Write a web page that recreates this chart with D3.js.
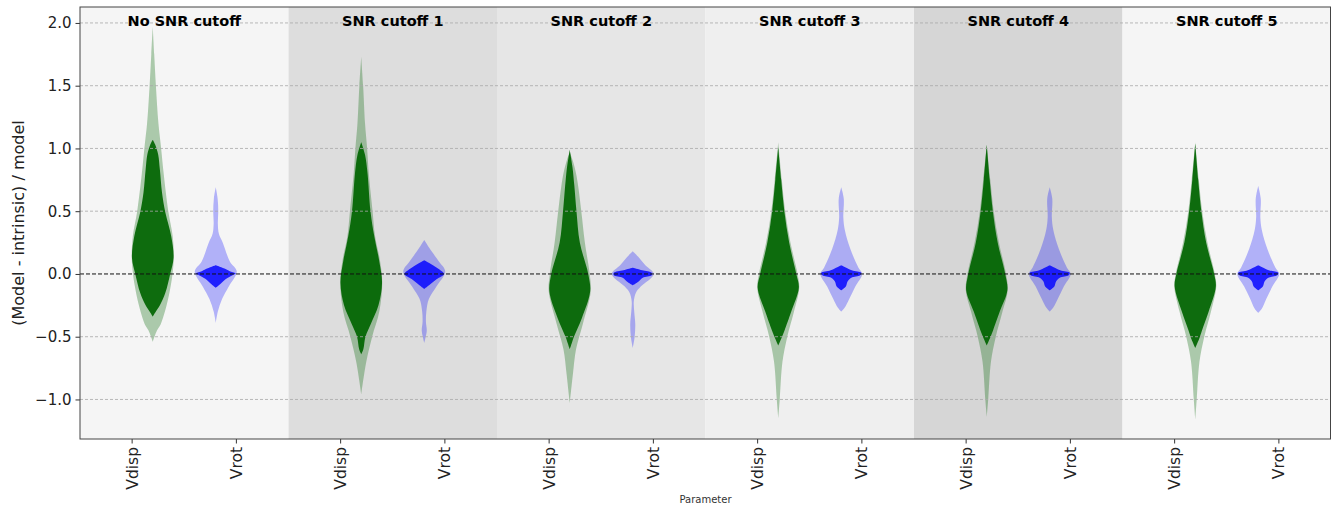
<!DOCTYPE html>
<html>
<head>
<meta charset="utf-8">
<script src="https://cdn.jsdelivr.net/npm/d3@7"></script>
<style>
  html, body { margin: 0; padding: 0; background: #ffffff; }
  svg { display: block; font-family: "DejaVu Sans", sans-serif; }
</style>
</head>
<body>
<svg id="chart" width="1331" height="506"></svg>
<script>
// ---------------- DATA ----------------
const panels = ["No SNR cutoff", "SNR cutoff 1", "SNR cutoff 2", "SNR cutoff 3", "SNR cutoff 4", "SNR cutoff 5"];
const params = ["Vdisp", "Vrot"];
const yTicks = [-1.0, -0.5, 0.0, 0.5, 1.0, 1.5, 2.0];

// Violin outlines: [value, relative density (1 = widest)]
// Vdisp, wide (light) distribution
const vdispOuter = [
  [[-0.54,0],[-0.45,0.2],[-0.4,0.38],[-0.25,0.66],[-0.1,0.85],[0,0.94],[0.13,1],[0.3,0.95],[0.5,0.74],[0.8,0.52],[1.0,0.4],[1.2,0.27],[1.5,0.15],[1.75,0.07],[1.97,0]],
  [[-0.96,0],[-0.7,0.24],[-0.5,0.52],[-0.3,0.86],[-0.07,1.0],[0.1,0.9],[0.3,0.66],[0.5,0.54],[0.8,0.36],[1.0,0.28],[1.2,0.18],[1.5,0.09],[1.73,0]],
  [[-1.03,0],[-0.8,0.15],[-0.6,0.3],[-0.4,0.62],[-0.14,1.0],[0.0,0.95],[0.25,0.72],[0.5,0.55],[0.7,0.4],[0.8,0.3],[0.9,0.15],[0.97,0]],
  [[-1.15,0],[-1.0,0.07],[-0.7,0.2],[-0.5,0.43],[-0.3,0.75],[-0.11,1.0],[0.0,0.92],[0.25,0.58],[0.5,0.33],[0.75,0.17],[1.05,0]],
  [[-1.14,0],[-1.0,0.07],[-0.7,0.2],[-0.5,0.43],[-0.3,0.75],[-0.13,1.0],[0.0,0.92],[0.25,0.58],[0.5,0.33],[0.75,0.17],[1.03,0]],
  [[-1.16,0],[-1.0,0.07],[-0.7,0.2],[-0.5,0.43],[-0.3,0.75],[-0.1,1.0],[0.0,0.93],[0.25,0.58],[0.5,0.33],[0.75,0.17],[1.05,0]]
];
// Vdisp, core (dark) distribution
const vdispInner = [
  [[-0.34,0],[-0.3,0.15],[-0.25,0.34],[-0.15,0.6],[0,0.83],[0.13,0.99],[0.3,0.88],[0.49,0.6],[0.65,0.44],[0.83,0.34],[0.95,0.26],[1.03,0.12],[1.07,0]],
  [[-0.64,0],[-0.6,0.1],[-0.5,0.2],[-0.4,0.45],[-0.25,0.82],[-0.07,0.99],[0.1,0.86],[0.3,0.62],[0.5,0.44],[0.8,0.3],[0.95,0.18],[1.05,0]],
  [[-0.6,0],[-0.55,0.1],[-0.5,0.2],[-0.35,0.58],[-0.14,0.97],[0.0,0.88],[0.25,0.48],[0.5,0.32],[0.7,0.22],[0.85,0.13],[0.99,0]],
  [[-0.57,0],[-0.5,0.18],[-0.45,0.3],[-0.3,0.62],[-0.11,0.98],[0.0,0.86],[0.25,0.52],[0.5,0.29],[0.75,0.14],[1.01,0]],
  [[-0.57,0],[-0.5,0.18],[-0.45,0.3],[-0.3,0.62],[-0.13,0.98],[0.0,0.88],[0.25,0.52],[0.5,0.29],[0.75,0.14],[1.03,0]],
  [[-0.59,0],[-0.52,0.18],[-0.45,0.32],[-0.3,0.64],[-0.1,0.98],[0.0,0.9],[0.25,0.52],[0.5,0.29],[0.75,0.14],[1.04,0]]
];
// Vrot, wide (light) distribution
const vrotOuter = [
  [[-0.39,0],[-0.3,0.1],[-0.2,0.3],[-0.1,0.62],[0.02,1.0],[0.1,0.67],[0.25,0.33],[0.32,0.15],[0.4,0.1],[0.5,0.12],[0.6,0.09],[0.69,0]],
  [[-0.55,0],[-0.5,0.07],[-0.45,0.12],[-0.38,0.08],[-0.3,0.1],[-0.2,0.22],[-0.1,0.58],[0.02,1.0],[0.1,0.7],[0.18,0.35],[0.27,0]],
  [[-0.59,0],[-0.5,0.09],[-0.4,0.12],[-0.3,0.07],[-0.22,0.05],[-0.15,0.15],[-0.1,0.38],[0.0,1.0],[0.07,0.6],[0.13,0.3],[0.18,0]],
  [[-0.30,0],[-0.27,0.16],[-0.2,0.38],[-0.1,0.67],[0.0,1.0],[0.05,0.82],[0.2,0.43],[0.35,0.17],[0.45,0.1],[0.6,0.12],[0.69,0]],
  [[-0.30,0],[-0.27,0.16],[-0.2,0.38],[-0.1,0.67],[0.0,1.0],[0.05,0.82],[0.2,0.43],[0.35,0.17],[0.45,0.1],[0.6,0.12],[0.69,0]],
  [[-0.31,0],[-0.28,0.16],[-0.2,0.38],[-0.1,0.67],[0.0,1.0],[0.05,0.82],[0.2,0.43],[0.35,0.17],[0.45,0.1],[0.6,0.12],[0.70,0]]
];
// Vrot, core (dark) distribution
const vrotInner = [
  [[-0.11,0],[-0.08,0.22],[-0.04,0.48],[-0.01,0.8],[0.005,0.95],[0.02,0.7],[0.04,0.47],[0.07,0]],
  [[-0.12,0],[-0.08,0.3],[-0.04,0.6],[0.0,0.94],[0.05,0.6],[0.11,0]],
  [[-0.09,0],[-0.06,0.28],[-0.03,0.48],[-0.01,0.9],[0.01,0.9],[0.03,0.45],[0.05,0]],
  [[-0.13,0],[-0.1,0.22],[-0.06,0.3],[-0.03,0.48],[-0.01,0.9],[0.01,0.95],[0.03,0.5],[0.07,0]],
  [[-0.13,0],[-0.1,0.22],[-0.06,0.3],[-0.03,0.48],[-0.01,0.9],[0.01,0.95],[0.03,0.5],[0.07,0]],
  [[-0.13,0],[-0.1,0.22],[-0.06,0.3],[-0.03,0.48],[-0.01,0.9],[0.01,0.95],[0.03,0.5],[0.07,0]]
];

// ---------------- LAYOUT / STYLE ----------------
const W = 1331, H = 506;
const m = { left: 80, right: 1331, top: 7, bottom: 439 };
const panelBg = ["#f5f5f5", "#dddddd", "#e6e6e6", "#efefef", "#d6d6d6", "#f5f5f5"];
const violinOffset = 31.5;
const maxHalfWidth = 21;

const svg = d3.select("#chart");

const y = d3.scaleLinear().domain([-1.315, 2.127]).range([m.bottom, m.top]);
const xPanel = d3.scaleBand().domain(panels).range([m.left, m.right]).padding(0);
const tickKeys = panels.flatMap(p => params.map(q => p + "|" + q));
const xTick = d3.scaleBand().domain(tickKeys).range([m.left, m.right]).padding(0);
const wScale = d3.scaleLinear().domain([0, 1]).range([0, maxHalfWidth]);

// panel backgrounds
svg.append("g").selectAll("rect").data(panels).join("rect")
  .attr("x", d => xPanel(d)).attr("y", m.top)
  .attr("width", xPanel.bandwidth()).attr("height", m.bottom - m.top)
  .attr("fill", (d, i) => panelBg[i]);

// violins
function violinPath(cx) {
  return d3.area()
    .curve(d3.curveCatmullRom.alpha(0.5))
    .y(d => y(d[0]))
    .x0(d => cx - wScale(d[1]))
    .x1(d => cx + wScale(d[1]));
}
const gv = svg.append("g");
panels.forEach((p, i) => {
  const c = xPanel(p) + xPanel.bandwidth() / 2;
  const cg = c - violinOffset, cb = c + violinOffset;
  gv.append("path").attr("d", violinPath(cg)(vdispOuter[i])).attr("fill", "#006400").attr("fill-opacity", 0.3);
  gv.append("path").attr("d", violinPath(cg)(vdispInner[i])).attr("fill", "#006400").attr("fill-opacity", 0.92);
  gv.append("path").attr("d", violinPath(cb)(vrotOuter[i])).attr("fill", "#0000ff").attr("fill-opacity", 0.28);
  gv.append("path").attr("d", violinPath(cb)(vrotInner[i])).attr("fill", "#0000ff").attr("fill-opacity", 0.82);
});

// grid lines
svg.append("g").selectAll("line").data(yTicks.filter(t => t !== 0)).join("line")
  .attr("x1", m.left).attr("x2", m.right)
  .attr("y1", d => y(d)).attr("y2", d => y(d))
  .attr("stroke", "#a8a8a8").attr("stroke-width", 0.8).attr("stroke-dasharray", "3,2");

// zero line
svg.append("line")
  .attr("x1", m.left).attr("x2", m.right)
  .attr("y1", y(0)).attr("y2", y(0))
  .attr("stroke", "#111").attr("stroke-width", 1).attr("stroke-dasharray", "4,2");

// axes
const yAxis = d3.axisLeft(y).tickValues(yTicks).tickFormat(d3.format(".1f")).tickSize(4.5).tickPadding(4);
const gy = svg.append("g").attr("transform", `translate(${m.left},0)`).call(yAxis);
gy.select(".domain").remove();
gy.selectAll("line").attr("stroke", "#333");
gy.selectAll("text").attr("font-size", 15).attr("fill", "#222").attr("font-family", "DejaVu Sans")
  .text(d => d < 0 ? "\u2212" + Math.abs(d).toFixed(1) : d.toFixed(1));

const xAxis = d3.axisBottom(xTick).tickSize(4.5).tickFormat(d => d.split("|")[1]);
const gx = svg.append("g").attr("transform", `translate(0,${m.bottom})`).call(xAxis);
gx.select(".domain").remove();
gx.selectAll("line").attr("stroke", "#333");
gx.selectAll("text")
  .attr("font-size", 15.5).attr("fill", "#222").attr("font-family", "DejaVu Sans")
  .attr("text-anchor", "end").attr("dy", "0.35em")
  .attr("transform", "translate(0,4) rotate(-90)")
  .attr("x", -4).attr("y", 0);

// spines
svg.append("rect")
  .attr("x", m.left).attr("y", m.top)
  .attr("width", m.right - m.left - 0.5).attr("height", m.bottom - m.top)
  .attr("fill", "none").attr("stroke", "#444").attr("stroke-width", 1);

// panel titles
svg.append("g").selectAll("text").data(panels).join("text")
  .attr("x", d => xPanel(d) + xPanel.bandwidth() / 2).attr("y", 25.5)
  .attr("text-anchor", "middle").attr("font-size", 14.5).attr("font-weight", "bold").attr("fill", "#000")
  .text(d => d);

// axis labels
svg.append("text")
  .attr("transform", `translate(24,${(m.top + m.bottom) / 2}) rotate(-90)`)
  .attr("text-anchor", "middle").attr("font-size", 16).attr("fill", "#222")
  .text("(Model - intrinsic) / model");

svg.append("text")
  .attr("x", (m.left + m.right) / 2).attr("y", 503)
  .attr("text-anchor", "middle").attr("font-size", 10).attr("fill", "#333")
  .text("Parameter");
</script>
</body>
</html>
